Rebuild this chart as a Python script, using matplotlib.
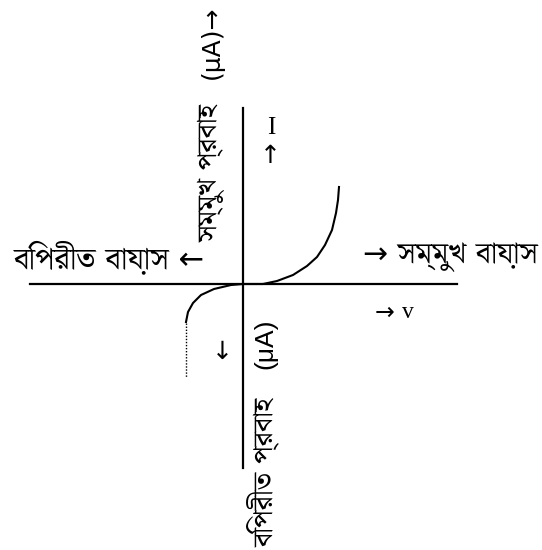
import matplotlib
matplotlib.use("Agg")
import matplotlib.pyplot as plt
from matplotlib import font_manager
from matplotlib.ft2font import FT2Font

# ===== 데이터 (원점 기준, 위쪽이 +) =====
fwd_v = [0, 20, 34, 50, 64, 74, 82, 89, 93, 95, 96]
fwd_i = [0, 0, 3, 9, 18, 27, 39, 54, 71, 84, 97]
rev_v = [0, -12, -29, -42, -50, -55, -57]
rev_i = [0, -1, -5, -11, -19, -28, -38]
dot_v = [-57, -57]
dot_i = [-39, -93]
x_axis = [-213, 214]
y_axis = [176, -184]

# 벵골 문자 폰트 찾기
bn_fonts = []
for f in font_manager.fontManager.ttflist:
    try:
        if 0x0995 in FT2Font(f.fname).get_charmap():
            bn_fonts.append(f.name)
    except Exception:
        pass
bn_fonts = list(dict.fromkeys(bn_fonts))
prefer = ["Noto Serif Bengali", "Noto Sans Bengali", "Lohit Bengali", "FreeSerif", "FreeSans"]
bn = [p for p in prefer if p in bn_fonts] + bn_fonts
fam = ["DejaVu Sans"] + bn[:1] + ["Liberation Serif"]      # 화살표는 DejaVu, 글자는 벵골 폰트
serif = ["Liberation Serif", "DejaVu Serif"]
arrow = ["DejaVu Sans"]

fig = plt.figure(figsize=(5.42, 5.50), dpi=100)
ax = fig.add_axes([0, 0, 1, 1])
ax.set_xlim(-243, 299)
ax.set_ylim(-266, 284)
ax.axis("off")

# 축
ax.plot(x_axis, [0, 0], color="black", lw=1.6)
ax.plot([0, 0], y_axis, color="black", lw=1.6)

# 특성 곡선
ax.plot(fwd_v, fwd_i, color="black", lw=1.5)
ax.plot(rev_v, rev_i, color="black", lw=1.5)
ax.plot(dot_v, dot_i, color="black", lw=1.0, ls=(0, (1, 1.2)))

fs = 22
ax.text(-38, 27, "বিপরীত বায়াস ←", ha="right", va="center", fontsize=fs, family=fam)
ax.text(120, 27, "→ সম্মুখ বায়াস", ha="left", va="center", fontsize=21.5, family=fam)
ax.text(132, -29, "→", ha="left", va="center", fontsize=17, family=arrow)
ax.text(159, -29, "v", ha="left", va="center", fontsize=17, family=serif)
ax.text(28, 156, "I", ha="center", va="center", fontsize=18, family=serif)
ax.text(27, 128, "↑", ha="center", va="center", fontsize=18, family=arrow)
ax.text(-21, -68, "↓", ha="center", va="center", fontsize=18, family=arrow)

ax.text(-31, 111, "সম্মুখ প্রবাহ", ha="center", va="center", rotation=90, fontsize=20, family=fam)
ax.text(-31, 242, "(μA)→", ha="center", va="center", rotation=90, fontsize=18,
        family=["DejaVu Sans"])
ax.text(20, -188, "বিপরীত প্রবাহ", ha="center", va="center", rotation=90, fontsize=20, family=fam)
ax.text(22, -60, "(μA)", ha="center", va="center", rotation=90, fontsize=19,
        family=["Liberation Sans", "DejaVu Sans"])

fig.savefig("out.png", dpi=100, facecolor="white")
